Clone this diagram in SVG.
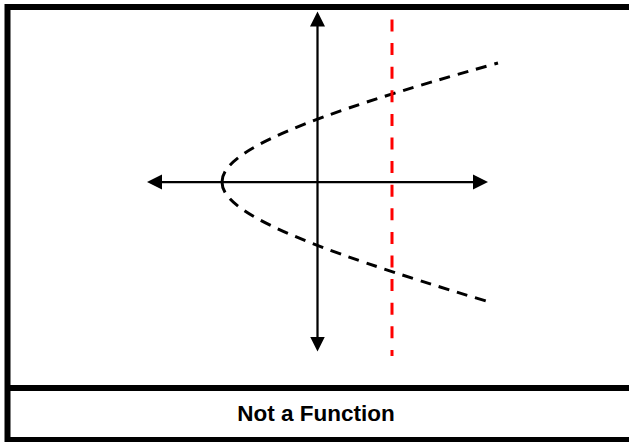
<svg xmlns="http://www.w3.org/2000/svg" width="629" height="442" viewBox="0 0 629 442">
<style>
.frame{fill:none;stroke:#000;stroke-width:6}
.axis{stroke:#000;stroke-width:2.25;fill:none}
.curve{stroke:#000;stroke-width:3;fill:none;stroke-dasharray:11 8}
.test{stroke:#ff0000;stroke-width:3;fill:none;stroke-dasharray:12 11.6}
.cap{font-family:"Liberation Sans",Arial,sans-serif;font-weight:bold;font-size:22.5px;fill:#000}
</style>
<defs>
<marker id="ah" markerUnits="userSpaceOnUse" markerWidth="16" markerHeight="16" viewBox="0 0 16 16" refX="0.5" refY="8" orient="auto-start-reverse">
<path d="M0,0.5 L15,8 L0,15.5 Z" fill="#000"/>
</marker>
</defs>
<rect width="629" height="442" fill="#fff"/>
<g id="frame">
<rect class="frame" x="7.5" y="7" width="630" height="433"/>
<line class="frame" x1="7.5" y1="388" x2="640" y2="388"/>
</g>
<g id="connectors">
<line class="axis" x1="317.5" y1="26" x2="317.5" y2="337" marker-start="url(#ah)" marker-end="url(#ah)"/>
<line class="axis" x1="161.5" y1="182" x2="473.5" y2="182" marker-start="url(#ah)" marker-end="url(#ah)"/>
</g>
<g id="curve">
<path class="curve" d="M222,182 C222,152 300,118 498,63"/>
<path class="curve" d="M222,182 C222,212 300,245 486,301"/>
</g>
<g id="vertical-test">
<line class="test" x1="392" y1="19.5" x2="392" y2="356"/>
</g>
<g id="caption">
<text class="cap" x="316" y="421" text-anchor="middle">Not a Function</text>
</g>
</svg>
